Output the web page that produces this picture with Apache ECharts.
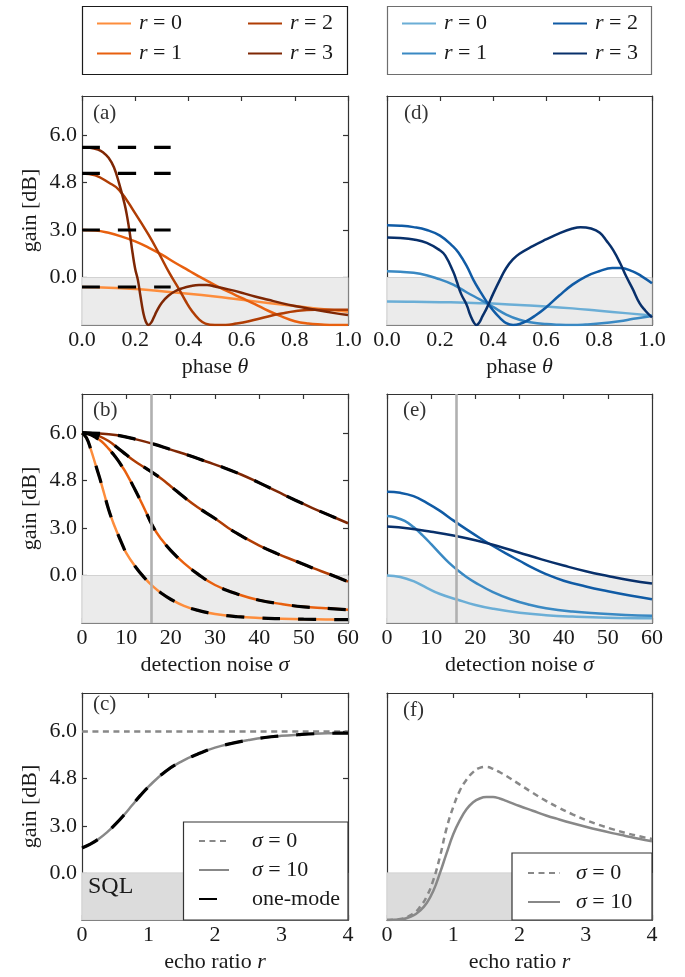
<!DOCTYPE html>
<html>
<head>
<meta charset="utf-8">
<script src="https://cdn.jsdelivr.net/npm/echarts@6/dist/echarts.min.js"></script>
<style>
  html, body { margin: 0; padding: 0; background: #ffffff; }
  #chart { width: 685px; height: 977px; }
</style>
</head>
<body>
<div id="chart"></div>
<script>
// ---------------- data (gain as linear power factor; axis labels in dB) ----------------

// (a) two-mode echo, gain vs phase theta
const thetaA_r0 = [0, 0.1, 0.2, 0.3, 0.4, 0.5, 0.6, 0.7, 0.8, 0.9, 1.0];
const gainA_r0  = [0.80, 0.785, 0.76, 0.71, 0.66, 0.60, 0.53, 0.465, 0.40, 0.335, 0.28];
const thetaA_r1 = [0, 0.05, 0.1, 0.15, 0.2, 0.25, 0.3, 0.35, 0.4, 0.45, 0.5, 0.55, 0.6, 0.65, 0.7, 0.75, 0.8, 0.85, 0.9, 0.95, 1.0];
const gainA_r1  = [2.0, 1.99, 1.94, 1.86, 1.76, 1.63, 1.48, 1.31, 1.15, 0.99, 0.84, 0.70, 0.57, 0.44, 0.30, 0.18, 0.08, 0.03, 0.01, 0.0, 0.0];
const thetaA_r2 = [0, 0.05, 0.1, 0.14, 0.2, 0.25, 0.29, 0.33, 0.363, 0.39, 0.414, 0.44, 0.464, 0.5, 0.54, 0.58, 0.627, 0.7, 0.75, 0.8, 0.877, 0.94, 1.0];
const gainA_r2  = [3.19, 3.15, 3.0, 2.84, 2.35, 1.9, 1.5, 1.08, 0.77, 0.5, 0.29, 0.12, 0.03, 0.0, 0.0, 0.03, 0.08, 0.18, 0.24, 0.29, 0.32, 0.32, 0.32];
const thetaA_r3 = [0, 0.03, 0.06, 0.08, 0.1, 0.12, 0.14, 0.16, 0.17, 0.18, 0.19, 0.2, 0.21, 0.22, 0.23, 0.24, 0.25, 0.26, 0.27, 0.28, 0.3, 0.326, 0.35, 0.376, 0.41, 0.44, 0.47, 0.5, 0.55, 0.6, 0.65, 0.7, 0.75, 0.8, 0.877, 0.95, 1.0];
const gainA_r3  = [3.74, 3.73, 3.69, 3.63, 3.52, 3.32, 2.97, 2.55, 2.27, 1.92, 1.52, 1.18, 0.95, 0.6, 0.27, 0.07, 0.0, 0.05, 0.16, 0.28, 0.47, 0.62, 0.71, 0.77, 0.82, 0.84, 0.84, 0.81, 0.75, 0.68, 0.6, 0.53, 0.46, 0.40, 0.32, 0.25, 0.21];
// (a) one-mode reference levels for r = 0..3, drawn over theta in [0, 1/3]
const oneModeA_levels = [0.80, 2.0, 3.19, 3.74];
const oneModeA_theta  = [0, 1 / 3];

// (d) gain vs phase theta
const thetaD_r0 = [0, 0.1, 0.2, 0.3, 0.4, 0.5, 0.6, 0.7, 0.8, 0.9, 1.0];
const gainD_r0  = [0.495, 0.49, 0.48, 0.47, 0.45, 0.42, 0.39, 0.35, 0.30, 0.25, 0.20];
const thetaD_r1 = [0, 0.05, 0.125, 0.2, 0.25, 0.3, 0.35, 0.376, 0.4, 0.45, 0.5, 0.54, 0.6, 0.65, 0.7, 0.75, 0.8, 0.877, 0.93, 1.0];
const gainD_r1  = [1.13, 1.12, 1.08, 0.96, 0.85, 0.69, 0.54, 0.46, 0.38, 0.22, 0.11, 0.06, 0.02, 0.005, 0.0, 0.01, 0.03, 0.08, 0.13, 0.19];
const thetaD_r2 = [0, 0.05, 0.1, 0.15, 0.2, 0.25, 0.27, 0.3, 0.326, 0.35, 0.376, 0.4, 0.426, 0.45, 0.476, 0.5, 0.526, 0.56, 0.6, 0.65, 0.7, 0.75, 0.8, 0.85, 0.88, 0.927, 0.96, 1.0];
const gainD_r2  = [2.10, 2.09, 2.06, 2.0, 1.88, 1.65, 1.52, 1.25, 0.95, 0.72, 0.49, 0.31, 0.15, 0.04, 0.0, 0.02, 0.08, 0.2, 0.37, 0.62, 0.85, 1.02, 1.13, 1.2, 1.2, 1.13, 1.03, 0.88];
const thetaD_r3 = [0, 0.05, 0.1, 0.15, 0.2, 0.22, 0.25, 0.263, 0.28, 0.3, 0.315, 0.328, 0.338, 0.348, 0.36, 0.376, 0.4, 0.426, 0.45, 0.475, 0.5, 0.55, 0.6, 0.65, 0.7, 0.73, 0.77, 0.803, 0.83, 0.853, 0.88, 0.903, 0.927, 0.953, 0.975, 1.0];
const gainD_r3  = [1.84, 1.83, 1.80, 1.73, 1.57, 1.46, 1.12, 0.92, 0.65, 0.43, 0.2, 0.05, 0.0, 0.05, 0.18, 0.35, 0.65, 0.95, 1.2, 1.38, 1.5, 1.66, 1.8, 1.93, 2.03, 2.06, 2.03, 1.94, 1.76, 1.58, 1.3, 1.02, 0.76, 0.46, 0.3, 0.16];

// (b) gain vs detection noise sigma (two-mode with one-mode overlay)
const sigmaB_fine = [0, 1, 2, 3, 4, 5, 6, 7, 8, 9, 10, 12, 14, 16, 18, 20, 23, 26, 30, 35, 40, 45, 50, 55, 60];
const gainB_r0 = [4.0, 3.9, 3.65, 3.35, 3.05, 2.72, 2.39, 2.12, 1.89, 1.67, 1.47, 1.19, 0.96, 0.77, 0.62, 0.5, 0.36, 0.27, 0.19, 0.135, 0.105, 0.09, 0.08, 0.075, 0.07];
const gainB_r1 = [4.0, 3.99, 3.96, 3.91, 3.85, 3.77, 3.67, 3.56, 3.44, 3.3, 3.15, 2.8, 2.42, 2.03, 1.75, 1.53, 1.26, 1.04, 0.8, 0.61, 0.48, 0.4, 0.34, 0.31, 0.28];
const sigmaB_r2 = [0, 2, 4, 6, 8, 10, 12, 14, 16, 18, 20, 23, 26, 30, 33, 36, 40, 44, 48, 52, 56, 60];
const gainB_r2  = [4.0, 3.99, 3.93, 3.83, 3.69, 3.54, 3.4, 3.28, 3.16, 3.03, 2.88, 2.65, 2.44, 2.2, 2.0, 1.83, 1.63, 1.46, 1.31, 1.16, 1.02, 0.87];
const sigmaB_r3 = [0, 4, 8, 12, 16, 20, 24, 28, 32, 36, 40, 44, 48, 52, 56, 60];
const gainB_r3  = [4.0, 3.99, 3.95, 3.87, 3.77, 3.65, 3.53, 3.4, 3.27, 3.12, 2.95, 2.77, 2.59, 2.42, 2.26, 2.10];

// (e) gain vs detection noise sigma
const sigmaE_r0 = [0, 3, 6, 9, 12, 16, 20, 24, 30, 36, 42, 50, 60];
const gainE_r0  = [1.0, 0.97, 0.88, 0.74, 0.61, 0.49, 0.38, 0.3, 0.215, 0.165, 0.135, 0.11, 0.1];
const sigmaE_r1 = [0, 2, 4, 6, 8, 10, 12, 14, 16, 18, 20, 24, 28, 32, 36, 42, 48, 54, 60];
const gainE_r1  = [2.25, 2.22, 2.15, 2.02, 1.85, 1.66, 1.46, 1.27, 1.11, 0.97, 0.85, 0.65, 0.5, 0.39, 0.31, 0.24, 0.2, 0.17, 0.15];
const sigmaE_r2 = [0, 3, 6, 9, 12, 15, 18, 21, 24, 27, 30, 33, 36, 40, 45, 50, 55, 60];
const gainE_r2  = [2.76, 2.74, 2.67, 2.53, 2.36, 2.16, 1.97, 1.79, 1.62, 1.46, 1.31, 1.16, 1.03, 0.89, 0.77, 0.67, 0.58, 0.5];
const sigmaE_r3 = [0, 5, 10, 15, 20, 25, 30, 35, 40, 45, 50, 55, 60];
const gainE_r3  = [2.03, 1.99, 1.92, 1.84, 1.74, 1.62, 1.48, 1.34, 1.21, 1.09, 0.99, 0.9, 0.83];

// (c) gain vs echo ratio r
const ratioC_s0 = [0, 4];
const gainC_s0  = [4.0, 4.0];
const ratioC_s10 = [0, 0.125, 0.25, 0.375, 0.5, 0.625, 0.75, 0.875, 1.0, 1.25, 1.5, 1.75, 2.0, 2.25, 2.5, 2.75, 3.0, 3.25, 3.5, 3.75, 4.0];
const gainC_s10  = [1.53, 1.61, 1.72, 1.86, 2.03, 2.22, 2.43, 2.64, 2.83, 3.15, 3.37, 3.53, 3.66, 3.75, 3.82, 3.875, 3.91, 3.935, 3.955, 3.965, 3.97];

// (f) gain vs echo ratio r
const ratioF = [0, 0.2, 0.4, 0.5, 0.6, 0.7, 0.8, 0.9, 1.0, 1.1, 1.2, 1.3, 1.4, 1.5, 1.6, 1.7, 1.8, 2.0, 2.2, 2.4, 2.6, 2.8, 3.0, 3.2, 3.4, 3.6, 3.8, 4.0];
const gainF_s0  = [0, 0.02, 0.14, 0.28, 0.5, 0.85, 1.35, 1.95, 2.4, 2.75, 2.98, 3.14, 3.23, 3.25, 3.21, 3.14, 3.06, 2.88, 2.7, 2.53, 2.38, 2.245, 2.125, 2.02, 1.93, 1.85, 1.78, 1.72];
const gainF_s10 = [0, 0.01, 0.1, 0.2, 0.36, 0.62, 1.0, 1.42, 1.82, 2.12, 2.35, 2.5, 2.58, 2.61, 2.61, 2.58, 2.53, 2.42, 2.32, 2.22, 2.135, 2.055, 1.98, 1.91, 1.845, 1.785, 1.725, 1.67];

// y axis: ticks at linear gain 1..4, labelled in dB
const gainTicks = [1, 2, 3, 4];
const gainTickLabels = ['0.0', '3.0', '4.8', '6.0'];
const GAIN_MAX = 4.82;
const SQL_GAIN = 1;          // standard quantum limit
const SIGMA_MARK = 15.7;     // detection noise marker in (b), (e)

// ---------------- styling ----------------
const FONT = 'Liberation Serif';
const TXT = '#1a1a1a';
const AX = '#333333';
const ORANGES = ['#fd8d3c', '#e8600f', '#b03d04', '#7f2704'];
const BLUES = ['#6baed6', '#3a89c3', '#105ba5', '#08306b'];
const GREY = '#888888';

const cols = [{ left: 82, width: 266 }, { left: 387, width: 265 }];
const rows = [{ top: 96, height: 229 }, { top: 394, height: 229 }, { top: 693, height: 227 }];

// panel order: a, d, b, e, c, f
const panels = [
  { row: 0, col: 0, xmin: 0, xmax: 1, xint: 0.2, dec: 1, xname: 'phase {i|θ}', shade: '#ebebeb' },
  { row: 0, col: 1, xmin: 0, xmax: 1, xint: 0.2, dec: 1, xname: 'phase {i|θ}', shade: '#ebebeb' },
  { row: 1, col: 0, xmin: 0, xmax: 60, xint: 10, dec: 0, xname: 'detection noise {i|σ}', shade: '#ebebeb', vline: true },
  { row: 1, col: 1, xmin: 0, xmax: 60, xint: 10, dec: 0, xname: 'detection noise {i|σ}', shade: '#ebebeb', vline: true },
  { row: 2, col: 0, xmin: 0, xmax: 4, xint: 1, dec: 0, xname: 'echo ratio {i|r}', shade: '#dcdcdc' },
  { row: 2, col: 1, xmin: 0, xmax: 4, xint: 1, dec: 0, xname: 'echo ratio {i|r}', shade: '#dcdcdc' }
];

const grid = [], xAxis = [], yAxis = [], series = [];
const rich = {
  i: { fontFamily: FONT, fontSize: 22, fontStyle: 'italic', color: TXT },
  n: { fontFamily: FONT, fontSize: 22, color: TXT }
};

panels.forEach((p, k) => {
  grid.push({ left: cols[p.col].left, top: rows[p.row].top, width: cols[p.col].width, height: rows[p.row].height });
  const axLine = { show: true, onZero: false, lineStyle: { color: AX, width: 1.2 } };
  const tick = { show: true, inside: true, length: 5, lineStyle: { color: AX, width: 1.2 } };
  xAxis.push({
    gridIndex: k, type: 'value', min: p.xmin, max: p.xmax, interval: p.xint, position: 'bottom',
    axisLine: axLine, axisTick: tick, splitLine: { show: false },
    axisLabel: { margin: 4, fontFamily: FONT, fontSize: 22, color: TXT, showMinLabel: true, showMaxLabel: true,
      formatter: v => v.toFixed(p.dec) },
    name: p.xname, nameLocation: 'middle', nameGap: 31,
    nameTextStyle: { fontFamily: FONT, fontSize: 22, color: TXT, rich }
  });
  xAxis.push({
    gridIndex: k, type: 'value', min: p.xmin, max: p.xmax, interval: p.xint, position: 'top',
    axisLine: axLine, axisTick: tick, axisLabel: { show: false }, splitLine: { show: false }
  });
  const isLeft = p.col === 0;
  yAxis.push({
    gridIndex: k, type: 'value', min: 0, max: GAIN_MAX, position: 'left',
    axisLine: axLine,
    axisTick: Object.assign({}, tick, { show: isLeft, customValues: gainTicks }),
    axisLabel: { show: isLeft, customValues: gainTicks, margin: 5, fontFamily: FONT, fontSize: 22, color: TXT,
      formatter: v => gainTickLabels[gainTicks.indexOf(v)] },
    splitLine: { show: false },
    name: isLeft ? 'gain [dB]' : '', nameLocation: 'middle', nameGap: 41, nameRotate: 90,
    nameTextStyle: { fontFamily: FONT, fontSize: 22, color: TXT }
  });
  yAxis.push({
    gridIndex: k, type: 'value', min: 0, max: GAIN_MAX, position: 'right',
    axisLine: axLine,
    axisTick: Object.assign({}, tick, { show: isLeft, customValues: gainTicks }),
    axisLabel: { show: false }, splitLine: { show: false }
  });

  // shaded region below the standard quantum limit (+ optional sigma marker)
  const host = {
    type: 'line', name: 'sql' + k, xAxisIndex: 2 * k, yAxisIndex: 2 * k, data: [], silent: true, z: 1,
    markArea: { silent: true, itemStyle: { color: p.shade, borderColor: '#d2d2d2', borderWidth: 1 },
      data: [[{ coord: [p.xmin, 0] }, { coord: [p.xmax, SQL_GAIN] }]] }
  };
  if (p.vline) {
    host.markLine = { silent: true, symbol: 'none', label: { show: false },
      lineStyle: { color: '#b0b0b0', width: 2.6, type: 'solid' }, data: [{ xAxis: SIGMA_MARK }] };
  }
  series.push(host);
});

function zip(xs, ys) { return xs.map((x, i) => [x, ys[i]]); }
function curve(k, name, xs, ys, color, width, dash, z) {
  return {
    type: 'line', name, xAxisIndex: 2 * k, yAxisIndex: 2 * k, data: zip(xs, ys),
    symbol: 'none', showSymbol: false, smooth: 0.45, silent: true, z: z || 3,
    lineStyle: { color, width, type: dash || 'solid', cap: 'butt' }, itemStyle: { color }
  };
}
const ONE_MODE_DASH = [18, 18];

// (a)
series.push(curve(0, 'a0', thetaA_r0, gainA_r0, ORANGES[0], 2.5));
series.push(curve(0, 'a1', thetaA_r1, gainA_r1, ORANGES[1], 2.5));
series.push(curve(0, 'a2', thetaA_r2, gainA_r2, ORANGES[2], 2.5));
series.push(curve(0, 'a3', thetaA_r3, gainA_r3, ORANGES[3], 2.5));
oneModeA_levels.forEach((lv, j) => {
  series.push(curve(0, 'a-one' + j, oneModeA_theta, oneModeA_theta.map(() => lv), '#000000', 3.2, ONE_MODE_DASH, 4));
});
// (d)
series.push(curve(1, 'd0', thetaD_r0, gainD_r0, BLUES[0], 2.5));
series.push(curve(1, 'd1', thetaD_r1, gainD_r1, BLUES[1], 2.5));
series.push(curve(1, 'd2', thetaD_r2, gainD_r2, BLUES[2], 2.5));
series.push(curve(1, 'd3', thetaD_r3, gainD_r3, BLUES[3], 2.5));
// (b) with one-mode overlay
[[sigmaB_fine, gainB_r0], [sigmaB_fine, gainB_r1], [sigmaB_r2, gainB_r2], [sigmaB_r3, gainB_r3]].forEach((d, j) => {
  series.push(curve(2, 'b' + j, d[0], d[1], ORANGES[j], 2.5));
  series.push(curve(2, 'b-one' + j, d[0], d[1], '#000000', 3.2, ONE_MODE_DASH, 4));
});
// (e)
series.push(curve(3, 'e0', sigmaE_r0, gainE_r0, BLUES[0], 2.5));
series.push(curve(3, 'e1', sigmaE_r1, gainE_r1, BLUES[1], 2.5));
series.push(curve(3, 'e2', sigmaE_r2, gainE_r2, BLUES[2], 2.5));
series.push(curve(3, 'e3', sigmaE_r3, gainE_r3, BLUES[3], 2.5));
// (c)
series.push(curve(4, 'c-s0', ratioC_s0, gainC_s0, GREY, 2.5, [6, 4.5]));
series.push(curve(4, 'c-s10', ratioC_s10, gainC_s10, GREY, 2.5));
series.push(curve(4, 'c-one', ratioC_s10, gainC_s10, '#000000', 3.2, ONE_MODE_DASH, 4));
// (f)
series.push(curve(5, 'f-s0', ratioF, gainF_s0, GREY, 2.5, [6, 4.5]));
series.push(curve(5, 'f-s10', ratioF, gainF_s10, GREY, 2.5));

// ---------------- legends ----------------
const legend = [];
function legendItem(name, label, left, centerY, textGap, iconW) {
  legend.push({
    data: [name], left, top: centerY - 11, padding: 0, itemWidth: iconW, itemHeight: 14,
    selectedMode: false, z: 60,
    itemStyle: { opacity: 0 },
    formatter: () => label,
    textStyle: { fontFamily: FONT, fontSize: 22, color: TXT, padding: [0, 0, 0, textGap], rich }
  });
}
// top boxes: r = 0..3, two columns
[[0, 0, 0], [1, 0, 1], [2, 1, 0], [3, 1, 1]].forEach(([j, c, rr]) => {
  const cy = rr === 0 ? 23.5 : 53.5;
  const lbl = '{i|r}{n| = ' + j + '}';
  legendItem('a' + j, lbl, 96 + c * 151, cy, 3, 34);
  legendItem('d' + j, lbl, 401 + c * 151, cy, 3, 34);
});
// (c) box
legendItem('c-s0', '{i|σ}{n| = 0}', 198, 841, 18, 30);
legendItem('c-s10', '{i|σ}{n| = 10}', 198, 870, 18, 30);
legendItem('c-one', '{n|one-mode}', 198, 899, 18, 30);
// (f) box
legendItem('f-s0', '{i|σ}{n| = 0}', 527, 873, 11, 32);
legendItem('f-s10', '{i|σ}{n| = 10}', 527, 902, 11, 32);

// panel letters and SQL note
const title = [
  ['(a)', 93, 103], ['(d)', 404, 103], ['(b)', 93, 400], ['(e)', 403, 400], ['(c)', 93, 694], ['(f)', 403, 700]
].map(([t, l, tp]) => ({ text: t, left: l, top: tp, padding: 0,
  textStyle: { fontFamily: FONT, fontSize: 21, fontWeight: 'normal', color: '#333' } }));
title.push({ text: 'SQL', left: 88, top: 875, padding: 0,
  textStyle: { fontFamily: FONT, fontSize: 24, fontWeight: 'normal', color: TXT } });

const graphic = [
  { type: 'rect', z: 50, shape: { x: 82.5, y: 6.5, width: 265, height: 68 }, style: { fill: 'none', stroke: '#1a1a1a', lineWidth: 1.2 } },
  { type: 'rect', z: 50, shape: { x: 387.5, y: 6.5, width: 264, height: 68 }, style: { fill: 'none', stroke: '#6e6e6e', lineWidth: 1.2 } },
  { type: 'rect', z: 50, shape: { x: 183.5, y: 822, width: 164.5, height: 98 }, style: { fill: '#ffffff', stroke: '#333333', lineWidth: 1.2 } },
  { type: 'rect', z: 50, shape: { x: 512, y: 853, width: 140, height: 67 }, style: { fill: '#ffffff', stroke: '#333333', lineWidth: 1.2 } }
];

const chart = echarts.init(document.getElementById('chart'), null, { renderer: 'canvas' });
chart.setOption({
  animation: false,
  backgroundColor: '#ffffff',
  grid, xAxis, yAxis, series, legend, title, graphic
});
</script>
</body>
</html>
